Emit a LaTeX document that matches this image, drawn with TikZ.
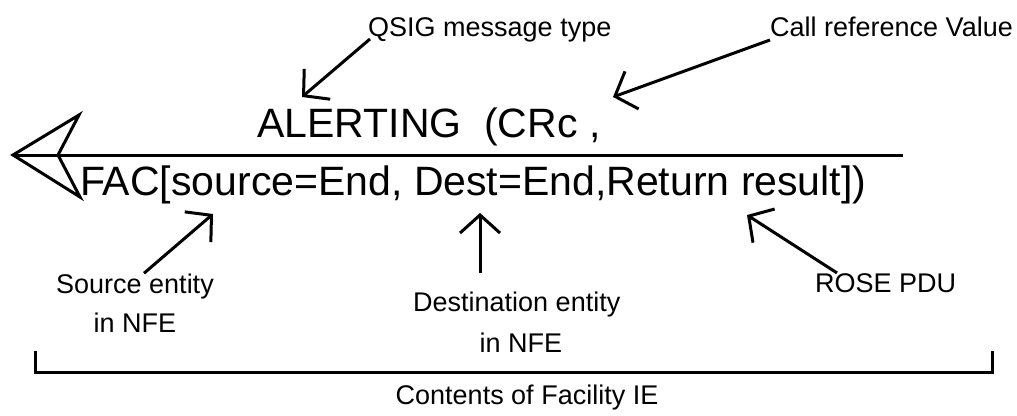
\documentclass[tikz,border=0pt]{standalone}
\usepackage{fontspec}
\setmainfont{Liberation Sans}
\usetikzlibrary{arrows.meta}
\begin{document}
\begin{tikzpicture}[x=1pt,y=-1pt,
  small/.style={font=\fontsize{27}{32}\selectfont, inner sep=0pt},
  big/.style={font=\fontsize{41}{49}\selectfont, inner sep=0pt},
  ptr/.style={line width=3pt, -{Straight Barb[length=18pt,width=40pt]}},
  rulel/.style={line width=3pt}]
\useasboundingbox (0,0) rectangle (1017,415);
% texts
\node[small, anchor=base west] (qsig) at (368,36) {QSIG message type};
\node[small, anchor=base west] (cref) at (770,36) {Call reference Value};
\node[big, anchor=base west] (alert) at (257,137) {ALERTING\ \ (CRc ,};
\node[big, anchor=base west] (fac) at (80,195) {FAC[source=End, Dest=End,Return result])};
\node[small, anchor=base] (src) at (135,293) {Source entity};
\node[small, anchor=base] (src2) at (135,332) {in NFE};
\node[small, anchor=base west] (dst) at (413,311) {Destination entity};
\node[small, anchor=base] (dst2) at (521,352) {in NFE};
\node[small, anchor=base west] (rose) at (815,292) {ROSE PDU};
\node[small, anchor=base] (cont) at (527,404) {Contents of Facility IE};
% coordinates
\coordinate (qsigT) at (302,97);
\coordinate (crefT) at (613,97);
\coordinate (srcT) at (213,214);
\coordinate (dstT) at (480,213);
\coordinate (roseT) at (747,215);
\coordinate (tip) at (13,155);
\coordinate (lineR) at (903,155);
\coordinate (bl) at (35,351);
\coordinate (blb) at (35,372);
\coordinate (brb) at (992,372);
\coordinate (br) at (992,351);
% pointers
\draw[ptr] ([xshift=2pt,yshift=-3pt]qsig.base west) -- (qsigT);
\draw[ptr] ([xshift=0pt,yshift=-4pt]cref.base west) -- (crefT);
\draw[ptr] ([xshift=88pt]src.north west) -- (srcT);
\draw[ptr] ([xshift=67pt,yshift=18pt]dst.north west) -- (dstT);
\draw[ptr] ([xshift=22pt]rose.north west) -- (roseT);
% main line with open arrowhead
\draw[rulel] (tip) -- (lineR);
\draw[rulel, line join=miter] (tip) -- (79,115) -- (58,155) -- (80,197) -- cycle;
% bracket
\draw[rulel] (bl) -- (blb) -- (brb) -- (br);
\end{tikzpicture}
\end{document}
